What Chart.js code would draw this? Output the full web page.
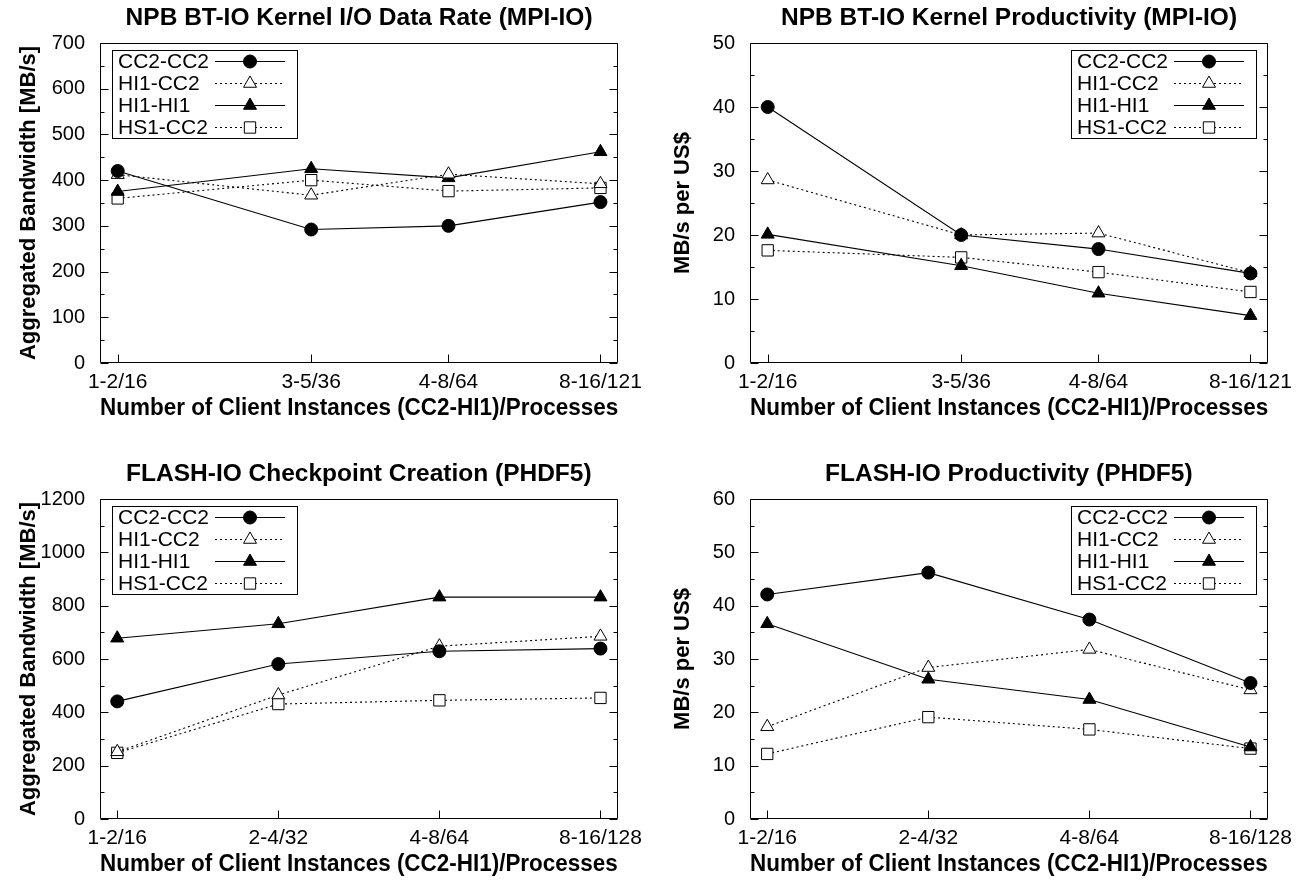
<!DOCTYPE html>
<html>
<head>
<meta charset="utf-8">
<script src="https://cdn.jsdelivr.net/npm/chart.js@4.4.1/dist/chart.umd.min.js"></script>
<style>
html,body{margin:0;padding:0;background:#fff;}
body{width:1308px;height:881px;position:relative;overflow:hidden;}
canvas{position:absolute;}
</style>
</head>
<body>
<canvas id="c1" width="650" height="425" style="left:0;top:0"></canvas>
<canvas id="c2" width="650" height="425" style="left:650px;top:0"></canvas>
<canvas id="c3" width="650" height="425" style="left:0;top:456px"></canvas>
<canvas id="c4" width="650" height="425" style="left:650px;top:456px"></canvas>
<script>
// ---------- data ----------
const seriesNames = ['CC2-CC2', 'HI1-CC2', 'HI1-HI1', 'HS1-CC2'];

const btProcesses = [16, 36, 64, 121];
const btTickLabels = ['1-2/16', '3-5/36', '4-8/64', '8-16/121'];
const flashProcesses = [16, 32, 64, 128];
const flashTickLabels = ['1-2/16', '2-4/32', '4-8/64', '8-16/128'];

// NPB BT-IO Kernel I/O Data Rate (MB/s)
const btRateCC2CC2 = [420, 292, 300, 352];
const btRateHI1CC2 = [412, 367, 413, 392];
const btRateHI1HI1 = [375, 425, 405, 462];
const btRateHS1CC2 = [360, 400, 376, 383];

// NPB BT-IO Kernel Productivity (MB/s per US$)
const btProdCC2CC2 = [40.0, 20.0, 17.8, 14.0];
const btProdHI1CC2 = [28.6, 20.0, 20.3, 14.1];
const btProdHI1HI1 = [20.1, 15.2, 10.9, 7.4];
const btProdHS1CC2 = [17.6, 16.5, 14.2, 11.1];

// FLASH-IO Checkpoint Creation (MB/s)
const flashRateCC2CC2 = [441, 581, 629, 639];
const flashRateHI1CC2 = [252, 465, 648, 685];
const flashRateHI1HI1 = [678, 732, 832, 832];
const flashRateHS1CC2 = [248, 431, 445, 454];

// FLASH-IO Productivity (MB/s per US$)
const flashProdCC2CC2 = [42.1, 46.2, 37.4, 25.5];
const flashProdHI1CC2 = [17.3, 28.4, 31.8, 24.2];
const flashProdHI1HI1 = [36.6, 26.2, 22.4, 13.5];
const flashProdHS1CC2 = [12.2, 19.1, 16.8, 13.2];

// ---------- styles ----------
const FONT = '"Liberation Sans", Arial, Helvetica, sans-serif';
Chart.defaults.font.family = FONT;
Chart.defaults.color = '#000';

const seriesStyles = [
  {borderDash: [], pointStyle: 'circle', pointRadius: 6.5, fill: '#000'},
  {borderDash: [2, 3], pointStyle: 'triangle', pointRadius: 7.5, fill: '#fff'},
  {borderDash: [], pointStyle: 'triangle', pointRadius: 7.5, fill: '#000'},
  {borderDash: [2, 3], pointStyle: 'rect', pointRadius: 8, fill: '#fff'}
];

function drawMarker(ctx, style, radius, x, y) {
  ctx.beginPath();
  if (style === 'circle') {
    ctx.arc(x, y, radius, 0, Math.PI * 2);
  } else if (style === 'triangle') {
    ctx.moveTo(x, y - radius);
    ctx.lineTo(x + radius * Math.cos(Math.PI / 6), y + radius * 0.5);
    ctx.lineTo(x - radius * Math.cos(Math.PI / 6), y + radius * 0.5);
    ctx.closePath();
  } else {
    const s = radius * Math.SQRT1_2;
    ctx.rect(x - s, y - s, 2 * s, 2 * s);
  }
  ctx.fill();
  ctx.stroke();
}

const framePlugin = {
  id: 'framePlugin',
  afterDatasetsDraw(chart, args, opts) {
    const {ctx, chartArea: a} = chart;
    const ys = chart.scales.y, xs = chart.scales.x;
    ctx.save();
    ctx.strokeStyle = '#000';
    ctx.lineWidth = 1;
    ctx.setLineDash([]);
    const L = Math.round(a.left) + 0.5, R = Math.round(a.right) - 0.5;
    const T = Math.round(a.top) + 0.5, B = Math.round(a.bottom) - 0.5;
    ctx.beginPath();
    ctx.rect(L, T, R - L, B - T);
    ctx.stroke();
    // y ticks, major + minor, both sides, pointing inwards
    const step = opts.yStep;
    ctx.beginPath();
    for (let v = ys.min, k = 0; v <= ys.max + 1e-9; v = ys.min + (++k) * step / 2) {
      const len = (k % 2 === 0) ? 8 : 4;
      const py = Math.round(ys.getPixelForValue(v)) + 0.5;
      ctx.moveTo(L, py); ctx.lineTo(L + len, py);
      ctx.moveTo(R, py); ctx.lineTo(R - len, py);
    }
    // x ticks on bottom
    xs.ticks.forEach(t => {
      const px = Math.round(xs.getPixelForValue(t.value)) + 0.5;
      ctx.moveTo(px, B); ctx.lineTo(px, B - 8);
    });
    ctx.stroke();

    // legend inside the plot
    const n = chart.data.datasets.length;
    const w = 185, rowH = 22, h = n * rowH;
    const left = opts.legendSide === 'right' ? Math.round(a.right - 12 - w) : Math.round(a.left + 12);
    const top = Math.round(a.top + 7);
    ctx.fillStyle = '#fff';
    ctx.fillRect(left, top, w, h);
    ctx.strokeStyle = '#000';
    ctx.lineWidth = 1;
    ctx.strokeRect(left + 0.5, top + 0.5, w, h);
    chart.data.datasets.forEach((ds, i) => {
      const cy = top + rowH * (i + 0.5) + 0.5;
      ctx.fillStyle = '#000';
      ctx.font = '21px ' + FONT;
      ctx.textAlign = 'left';
      ctx.textBaseline = 'middle';
      ctx.fillText(ds.label, left + 6, cy + 1);
      ctx.beginPath();
      ctx.setLineDash(ds.borderDash || []);
      ctx.strokeStyle = ds.borderColor;
      ctx.lineWidth = ds.borderWidth;
      ctx.moveTo(left + 103, cy);
      ctx.lineTo(left + 173, cy);
      ctx.stroke();
      ctx.setLineDash([]);
      ctx.fillStyle = ds.pointBackgroundColor;
      ctx.strokeStyle = ds.pointBorderColor;
      ctx.lineWidth = 1;
      drawMarker(ctx, ds.pointStyle, ds.pointRadius, left + 138, cy);
    });
    ctx.restore();
  }
};

function makeChart(id, cfg) {
  const datasets = cfg.series.map((vals, i) => ({
    label: seriesNames[i],
    data: cfg.x.map((xv, j) => ({x: xv, y: vals[j]})),
    borderColor: '#000',
    borderWidth: 1.1,
    borderDash: seriesStyles[i].borderDash,
    pointStyle: seriesStyles[i].pointStyle,
    pointRadius: seriesStyles[i].pointRadius,
    pointBackgroundColor: seriesStyles[i].fill,
    pointBorderColor: '#000',
    pointBorderWidth: 1,
    tension: 0,
    fill: false
  }));
  const pad = 1.077;
  return new Chart(document.getElementById(id), {
    type: 'line',
    data: {datasets},
    plugins: [framePlugin],
    options: {
      responsive: false,
      animation: false,
      devicePixelRatio: 1,
      layout: {padding: {left: 0, right: 28, top: 0, bottom: 0}},
      plugins: {
        legend: {display: false},
        tooltip: {enabled: false},
        title: {
          display: true, text: cfg.title, fullSize: false, color: '#000',
          font: {family: FONT, size: 24.5, weight: 'bold'},
          padding: {top: 4, bottom: 9.6}
        },
        framePlugin: {legendSide: cfg.legendSide, yStep: cfg.yStep}
      },
      scales: {
        x: {
          type: 'logarithmic',
          min: cfg.x[0] / pad,
          max: cfg.x[cfg.x.length - 1] * pad,
          afterBuildTicks: s => { s.ticks = cfg.x.map(v => ({value: v})); },
          afterFit: s => { s.height = 62; },
          grid: {display: false, drawTicks: false},
          border: {display: false},
          ticks: {
            autoSkip: false, maxRotation: 0, minRotation: 0, padding: 7, color: '#000',
            font: {family: FONT, size: 21},
            callback: v => cfg.tickLabels[cfg.x.indexOf(v)]
          },
          title: {
            display: true, text: 'Number of Client Instances (CC2-HI1)/Processes', color: '#000',
            font: {family: FONT, size: 23.5, weight: 'bold'},
            padding: {top: 0, bottom: 2}
          }
        },
        y: {
          type: 'linear', min: 0, max: cfg.yMax,
          afterFit: s => { s.width = 100; },
          grid: {display: false, drawTicks: false},
          border: {display: false},
          ticks: {
            stepSize: cfg.yStep, padding: 15, color: '#000', font: {family: FONT, size: 20},
            callback: v => String(v)
          },
          title: {
            display: true, text: cfg.yTitle, color: '#000',
            font: {family: FONT, size: 22, weight: 'bold'},
            padding: {top: cfg.yTitlePad, bottom: 0}
          }
        }
      }
    }
  });
}

makeChart('c1', {
  title: 'NPB BT-IO Kernel I/O Data Rate (MPI-IO)',
  yTitle: 'Aggregated Bandwidth [MB/s]', yTitlePad: 16,
  x: btProcesses, tickLabels: btTickLabels,
  yMax: 700, yStep: 100, legendSide: 'left',
  series: [btRateCC2CC2, btRateHI1CC2, btRateHI1HI1, btRateHS1CC2]
});
makeChart('c2', {
  title: 'NPB BT-IO Kernel Productivity (MPI-IO)',
  yTitle: 'MB/s per US$', yTitlePad: 20,
  x: btProcesses, tickLabels: btTickLabels,
  yMax: 50, yStep: 10, legendSide: 'right',
  series: [btProdCC2CC2, btProdHI1CC2, btProdHI1HI1, btProdHS1CC2]
});
makeChart('c3', {
  title: 'FLASH-IO Checkpoint Creation (PHDF5)',
  yTitle: 'Aggregated Bandwidth [MB/s]', yTitlePad: 16,
  x: flashProcesses, tickLabels: flashTickLabels,
  yMax: 1200, yStep: 200, legendSide: 'left',
  series: [flashRateCC2CC2, flashRateHI1CC2, flashRateHI1HI1, flashRateHS1CC2]
});
makeChart('c4', {
  title: 'FLASH-IO Productivity (PHDF5)',
  yTitle: 'MB/s per US$', yTitlePad: 20,
  x: flashProcesses, tickLabels: flashTickLabels,
  yMax: 60, yStep: 10, legendSide: 'right',
  series: [flashProdCC2CC2, flashProdHI1CC2, flashProdHI1HI1, flashProdHS1CC2]
});
</script>
</body>
</html>
